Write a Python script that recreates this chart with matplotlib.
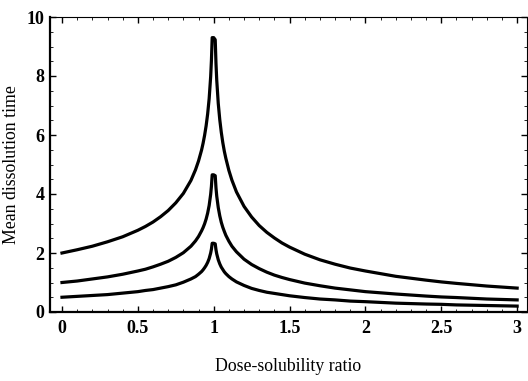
import matplotlib
matplotlib.use("Agg")
import matplotlib.pyplot as plt
from matplotlib.ticker import MultipleLocator

# Dose-solubility ratio (x) and mean dissolution time for three curves
ratio = [0.0, 0.1, 0.2, 0.3, 0.4, 0.5, 0.55, 0.6, 0.65, 0.7, 0.75, 0.8,
         0.85, 0.88, 0.9, 0.92, 0.93, 0.94, 0.95, 0.96, 0.97, 0.98, 0.985, 0.99,
         1.0, 1.01, 1.015, 1.02, 1.03, 1.04, 1.05, 1.06, 1.07, 1.08, 1.1, 1.12,
         1.15, 1.2, 1.25, 1.3, 1.35, 1.4, 1.45, 1.5, 1.6, 1.7, 1.8, 1.9,
         2.0, 2.2, 2.4, 2.5, 2.6, 2.8, 3.0]
mdt_top = [2.00, 2.11, 2.23, 2.38, 2.55, 2.77, 2.90, 3.05, 3.23, 3.44, 3.70, 4.02,
           4.46, 4.82, 5.12, 5.49, 5.72, 5.99, 6.31, 6.71, 7.23, 7.98, 8.53, 9.30,
           9.30, 9.23, 8.43, 7.86, 7.07, 6.52, 6.09, 5.74, 5.45, 5.21, 4.80, 4.47,
           4.07, 3.58, 3.22, 2.93, 2.70, 2.51, 2.34, 2.20, 1.96, 1.77, 1.62, 1.49,
           1.39, 1.21, 1.08, 1.02, 0.97, 0.88, 0.81]
mdt_mid = [1.00, 1.05, 1.12, 1.19, 1.28, 1.39, 1.45, 1.53, 1.62, 1.72, 1.85, 2.01,
           2.23, 2.41, 2.56, 2.75, 2.86, 2.99, 3.15, 3.35, 3.61, 3.99, 4.26, 4.65,
           4.65, 4.62, 4.21, 3.93, 3.54, 3.26, 3.04, 2.87, 2.73, 2.60, 2.40, 2.23,
           2.04, 1.79, 1.61, 1.47, 1.35, 1.25, 1.17, 1.10, 0.98, 0.89, 0.81, 0.75,
           0.69, 0.61, 0.54, 0.51, 0.49, 0.44, 0.41]
mdt_low = [0.50, 0.53, 0.56, 0.59, 0.64, 0.69, 0.73, 0.76, 0.81, 0.86, 0.92, 1.01,
           1.12, 1.20, 1.28, 1.37, 1.43, 1.50, 1.58, 1.68, 1.81, 2.00, 2.13, 2.33,
           2.33, 2.31, 2.11, 1.97, 1.77, 1.63, 1.52, 1.44, 1.36, 1.30, 1.20, 1.12,
           1.02, 0.90, 0.80, 0.73, 0.67, 0.63, 0.59, 0.55, 0.49, 0.44, 0.41, 0.37,
           0.35, 0.30, 0.27, 0.26, 0.24, 0.22, 0.20]

xticks = [0, 0.5, 1, 1.5, 2, 2.5, 3]
xtick_labels = ["0", "0.5", "1", "1.5", "2", "2.5", "3"]
yticks = [0, 2, 4, 6, 8, 10]
ytick_labels = ["0", "2", "4", "6", "8", "10"]

plt.rcParams['font.family'] = ['Liberation Serif', 'DejaVu Serif']

fig = plt.figure(figsize=(5.28, 3.81), dpi=100)
ax = fig.add_axes([50/528, 1 - 312/381, 477/528, 295/381])

for series in (mdt_top, mdt_mid, mdt_low):
    ax.plot(ratio, series, color='black', lw=2.3, solid_joinstyle='round')

ax.set_xlim(-0.079, 3.065)
ax.set_ylim(0, 10)
ax.set_xticks(xticks)
ax.set_xticklabels(xtick_labels, fontsize=13, fontweight='bold')
ax.set_yticks(yticks)
ax.set_yticklabels(ytick_labels, fontsize=13, fontweight='bold')
ax.xaxis.set_minor_locator(MultipleLocator(0.1))
ax.yaxis.set_minor_locator(MultipleLocator(0.5))
ax.tick_params(which='major', direction='in', length=4, width=1,
               top=True, right=True, pad=6)
ax.tick_params(axis='y', which='major', pad=4)
ax.tick_params(which='minor', direction='in', length=2, width=0.6,
               top=True, right=True)

ax.spines['left'].set_linewidth(1.6)
ax.spines['bottom'].set_linewidth(1.6)
ax.spines['top'].set_linewidth(0.8)
ax.spines['right'].set_linewidth(0.8)

ax.set_xlabel("Dose-solubility ratio", fontsize=12.8, labelpad=15)
ax.set_ylabel("Mean dissolution time", fontsize=12.8, labelpad=5)

fig.savefig("out.png", dpi=100)
